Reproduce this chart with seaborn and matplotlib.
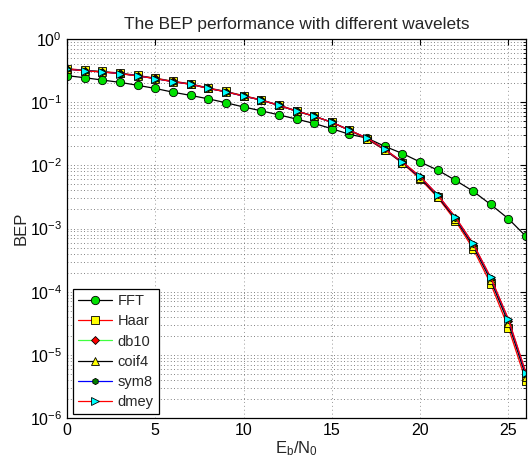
import numpy as np
import pandas as pd
import matplotlib
matplotlib.use("Agg")
import matplotlib.pyplot as plt
import seaborn as sns
from matplotlib.ticker import FixedLocator, NullFormatter, LogFormatterSciNotation

# ---------------- data ----------------
ebn0 = list(range(0, 27))
fft = [0.263, 0.244, 0.224, 0.206, 0.185, 0.165, 0.144, 0.128, 0.113, 0.098,
       0.084, 0.073, 0.063, 0.054, 0.046, 0.038, 0.031, 0.027, 0.020, 0.0154,
       0.0113, 0.0084, 0.0058, 0.0039, 0.0024, 0.00143, 0.00075]
haar = [0.340, 0.320, 0.306, 0.289, 0.265, 0.240, 0.215, 0.195, 0.168, 0.148,
        0.127, 0.109, 0.090, 0.073, 0.060, 0.048, 0.036, 0.026, 0.0175, 0.0108,
        0.0061, 0.0031, 0.00133, 0.00048, 0.000133, 2.7e-5, 3.8e-6]
db10 = [0.336, 0.317, 0.303, 0.286, 0.262, 0.238, 0.213, 0.193, 0.166, 0.147,
        0.126, 0.108, 0.089, 0.072, 0.060, 0.048, 0.036, 0.0265, 0.0178, 0.0111,
        0.0065, 0.0033, 0.00146, 0.00055, 0.000158, 3.4e-5, 4.8e-6]
coif4 = [0.335, 0.316, 0.302, 0.285, 0.262, 0.237, 0.212, 0.193, 0.166, 0.146,
         0.125, 0.108, 0.089, 0.072, 0.060, 0.048, 0.036, 0.0265, 0.0177, 0.0110,
         0.0064, 0.0032, 0.00142, 0.00053, 0.000152, 3.2e-5, 4.5e-6]
sym8 = [0.334, 0.315, 0.301, 0.284, 0.261, 0.236, 0.211, 0.192, 0.165, 0.146,
        0.125, 0.108, 0.089, 0.072, 0.060, 0.048, 0.036, 0.027, 0.0179, 0.0112,
        0.0066, 0.0034, 0.00149, 0.00057, 0.000165, 3.6e-5, 5.0e-6]
dmey = [0.333, 0.314, 0.300, 0.283, 0.260, 0.236, 0.211, 0.192, 0.165, 0.146,
        0.125, 0.108, 0.089, 0.072, 0.060, 0.048, 0.036, 0.027, 0.018, 0.0113,
        0.0067, 0.0034, 0.00152, 0.00058, 0.000169, 3.7e-5, 5.2e-6]

series_names = ["FFT", "Haar", "db10", "coif4", "sym8", "dmey"]
series_vals = [fft, haar, db10, coif4, sym8, dmey]

x_ticks = [0, 5, 10, 15, 20, 25]
y_exponents = [-6, -5, -4, -3, -2, -1, 0]

title_text = "The BEP performance with different wavelets"
xlabel_text = r"E$_\mathregular{b}$/N$_\mathregular{0}$"
ylabel_text = "BEP"

# ---------------- style ----------------
sns.set_style("white")
plt.rcParams["font.family"] = ["Liberation Sans", "DejaVu Sans"]
plt.rcParams["mathtext.fontset"] = "custom"
plt.rcParams["mathtext.rm"] = "Liberation Sans"
plt.rcParams["mathtext.it"] = "Liberation Sans:italic"
plt.rcParams["mathtext.bf"] = "Liberation Sans:bold"

styles = {
    "FFT":   dict(color="black", marker="o", mfc="#00e000", ms=6.0),
    "Haar":  dict(color="red", marker="s", mfc="yellow", ms=5.5),
    "db10":  dict(color="#40ff40", marker="D", mfc="red", ms=4.5),
    "coif4": dict(color="black", marker="^", mfc="yellow", ms=6.0),
    "sym8":  dict(color="blue", marker="h", mfc="green", ms=4.5),
    "dmey":  dict(color="red", marker=">", mfc="cyan", ms=6.0),
}

fig = plt.figure(figsize=(5.31, 4.59), dpi=100)
ax = fig.add_axes([0.1262, 0.0893, 0.8644, 0.8257])

rows = []
for name, vals in zip(series_names, series_vals):
    for xv, yv in zip(ebn0, vals):
        rows.append({"EbN0": xv, "BEP": yv, "series": name})
df = pd.DataFrame(rows)

for name in series_names:
    st = styles[name]
    sub = df[df["series"] == name]
    sns.lineplot(data=sub, x="EbN0", y="BEP", ax=ax, color=st["color"],
                 marker=st["marker"], markerfacecolor=st["mfc"],
                 markeredgecolor="black", markeredgewidth=0.6,
                 markersize=st["ms"], linewidth=0.9, label=name,
                 estimator=None, errorbar=None)

ax.set_yscale("log")
ax.set_xlim(0, 26)
ax.set_ylim(1e-6, 1)

major_y = [10.0 ** e for e in y_exponents]
minor_y = [m * 10.0 ** e for e in y_exponents[:-1] for m in range(2, 10)]
ax.xaxis.set_major_locator(FixedLocator(x_ticks))
ax.yaxis.set_major_locator(FixedLocator(major_y))
ax.yaxis.set_major_formatter(LogFormatterSciNotation())
ax.yaxis.set_minor_locator(FixedLocator(minor_y))
ax.yaxis.set_minor_formatter(NullFormatter())

ax.tick_params(axis="both", which="both", direction="in", top=True, right=True,
               labelsize=11.5, colors="black")
ax.tick_params(axis="both", which="major", length=4, width=0.8)
ax.tick_params(axis="y", which="minor", length=2, width=0.6)
ax.tick_params(axis="x", which="minor", bottom=False, top=False)

ax.grid(axis="x", which="major", color="0.6", linestyle=(0, (1, 3)), linewidth=0.7)
ax.grid(axis="y", which="both", color="0.35", linestyle=(0, (1, 3)), linewidth=0.6)

for sp in ax.spines.values():
    sp.set_color("black")
    sp.set_linewidth(0.9)

ax.set_title(title_text, fontsize=12.4, pad=7)
ax.set_xlabel(xlabel_text, fontsize=12, labelpad=1)
ax.set_ylabel(ylabel_text, fontsize=12, labelpad=1)

leg = ax.legend(loc="lower left", bbox_to_anchor=(0.013, 0.0106), borderaxespad=0,
                fontsize=10.5, frameon=True, fancybox=False, handlelength=2.3,
                labelspacing=0.42, handletextpad=0.4, borderpad=0.35)
leg.get_frame().set_edgecolor("black")
leg.get_frame().set_linewidth(0.9)
leg.get_frame().set_alpha(1)

fig.savefig("out.png", dpi=100)
